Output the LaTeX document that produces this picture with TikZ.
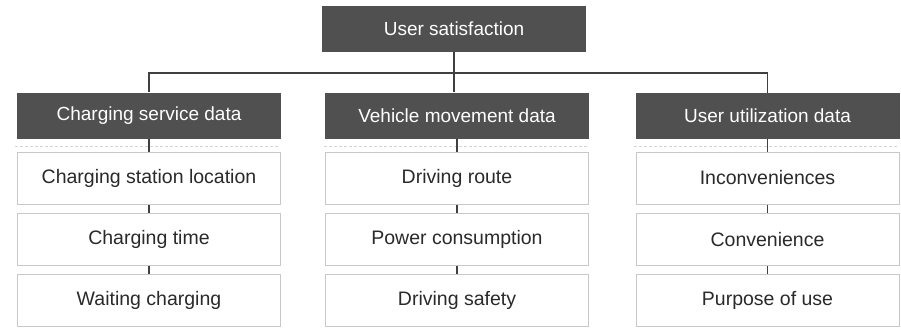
\documentclass[tikz,border=0pt]{standalone}
\usepackage{fontspec}
\setmainfont{Liberation Sans}
\definecolor{headfill}{HTML}{505050}
\definecolor{itemedge}{HTML}{C8C8C8}
\definecolor{itemtext}{HTML}{2A2A2A}
\definecolor{linkcol}{HTML}{404040}
\definecolor{sepcol}{HTML}{D4D4D4}
\begin{document}
\begin{tikzpicture}[x=1pt,y=-1pt,
  headbox/.style={fill=headfill,draw=none,text=white,minimum width=264pt,minimum height=46pt,inner sep=0pt,font=\fontsize{19}{22}\selectfont},
  itembox/.style={fill=white,draw=itemedge,line width=1pt,text=itemtext,minimum width=263pt,minimum height=52pt,inner sep=0pt,font=\fontsize{19.5}{23}\selectfont},
  link/.style={draw=linkcol,line width=1.6pt},
  sepline/.style={draw=sepcol,line width=0.8pt,dash pattern=on 3pt off 2pt}]
\useasboundingbox (0,0) rectangle (901,327);

% root
\node[headbox] (top) at (454,29) {User satisfaction};

% column headers
\node[headbox] (h1) at (149,115.5) {Charging service data};
\node[headbox] (h2) at (457,115.5) {Vehicle movement data};
\node[headbox] (h3) at (767.5,116) {User utilization data};

% separators under the headers
\draw[sepline] (15,146) -- (279,146);
\draw[sepline] (324,146) -- (588,146);
\draw[sepline] (634,146) -- (899,146);

% items
\node[itembox] (a1) at (149,178) {Charging station location};
\node[itembox] (a2) at (149,239.5) {Charging time};
\node[itembox] (a3) at (149,300) {Waiting charging};

\node[itembox] (b1) at (457,178) {Driving route};
\node[itembox] (b2) at (457,239.5) {Power consumption};
\node[itembox] (b3) at (457,300) {Driving safety};

\node[itembox] (c1) at (767.5,178) {Inconveniences};
\node[itembox] (c2) at (767.5,239.5) {Convenience};
\node[itembox] (c3) at (767.5,300) {Purpose of use};

% tree links
\coordinate (bus) at (0,73);
\draw[link] (h1.north) -- (h1.north |- bus) -- (h3.north |- bus) -- (h3.north);
\draw[link] (top.south) -- (top.south |- h2.north);

\foreach \u/\v in {h1/a1,a1/a2,a2/a3,h2/b1,b1/b2,b2/b3,h3/c1,c1/c2,c2/c3}
  \draw[link] (\u.south) -- (\v.north);
\end{tikzpicture}
\end{document}
